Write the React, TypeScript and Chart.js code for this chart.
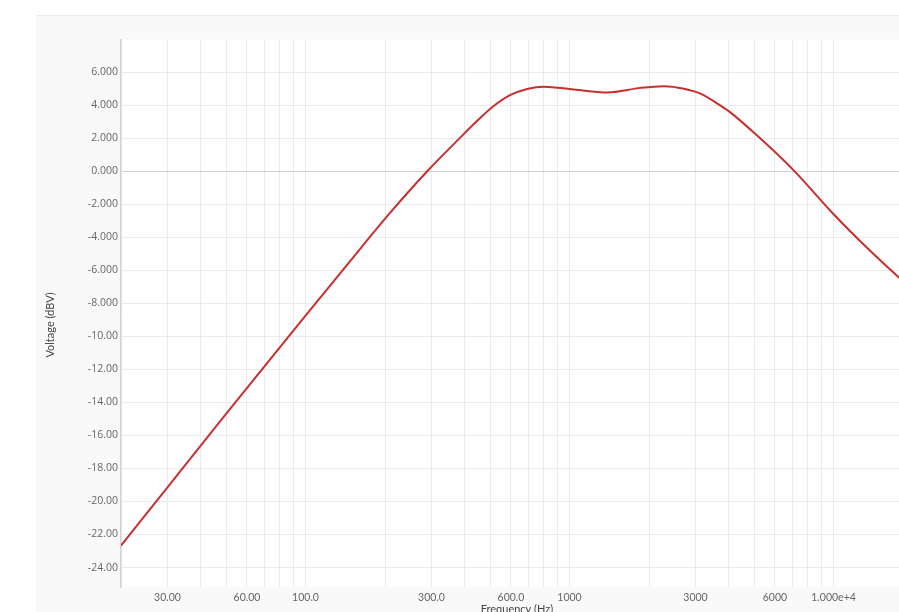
import React, { useEffect, useRef } from "react";
import { Chart, registerables } from "chart.js";

Chart.register(...registerables);

const FREQUENCIES = [20, 30, 50, 100, 150, 207, 289, 386, 450, 516, 598, 691, 800, 1038, 1390, 1858, 2277, 2711, 3135, 3733, 4075, 5063, 7080, 10030, 13420, 17780, 20000];
const VOLTAGES = [-22.67, -19.15, -14.7, -8.75, -5.3, -2.6, 0.0, 2.05, 3.1, 3.95, 4.62, 4.98, 5.12, 4.95, 4.77, 5.05, 5.15, 5.0, 4.7, 3.97, 3.55, 2.25, 0.04, -2.62, -4.65, -6.47, -7.2];
const X_LABELED_MANTISSAS = [1, 3, 6];
const Y_TICK_STEP = 2;

const fmt = (v: number) => Number(v).toPrecision(4);

export default function App() {
  const ref = useRef<HTMLCanvasElement>(null);

  useEffect(() => {
    if (!ref.current) return;
    const bgPlugin = {
      id: "bg",
      beforeDraw(chart: any) {
        const { ctx, chartArea } = chart;
        ctx.save();
        ctx.fillStyle = "#fefefe";
        ctx.fillRect(chartArea.left, chartArea.top, chartArea.right - chartArea.left, chartArea.bottom - chartArea.top);
        ctx.restore();
      },
      afterDraw(chart: any) {
        const { ctx } = chart;
        ctx.save();
        ctx.translate(14, 309);
        ctx.rotate(-Math.PI / 2);
        ctx.font = "11px Lato, 'Open Sans', sans-serif";
        ctx.fillStyle = "#444";
        ctx.textAlign = "center";
        ctx.textBaseline = "middle";
        ctx.fillText("Voltage (dBV)", 0, 0);
        ctx.restore();
      },
    };

    const chart = new Chart(ref.current, {
      type: "line",
      data: {
        datasets: [
          {
            data: FREQUENCIES.map((f, i) => ({ x: f, y: VOLTAGES[i] })),
            borderColor: "#c8302f",
            borderWidth: 2,
            pointRadius: 0,
            fill: false,
            cubicInterpolationMode: "monotone",
          },
        ],
      },
      options: {
        responsive: false,
        animation: false,
        devicePixelRatio: 1,
        layout: { padding: { top: 23.5, right: 7, left: 0, bottom: 0 } },
        plugins: { legend: { display: false }, tooltip: { enabled: false } },
        scales: {
          x: {
            type: "logarithmic",
            min: 20,
            max: 20000,
            afterBuildTicks(scale: any) {
              const ticks: any[] = [];
              for (const d of [10, 100, 1000, 10000]) {
                for (let m = 1; m <= 9; m++) {
                  const v = m * d;
                  if (v >= 20 && v <= 20000) ticks.push({ value: v, major: false });
                }
              }
              scale.ticks = ticks;
            },
            afterFit(scale: any) {
              scale.height = 29;
            },
            ticks: {
              autoSkip: false,
              maxRotation: 0,
              padding: 4,
              color: "#666",
              font: { family: "Lato, 'Open Sans', sans-serif", size: 10.5 },
              callback(value: any) {
                const v = Number(value);
                const m = Math.round(v / Math.pow(10, Math.floor(Math.log10(v) + 1e-9)));
                return X_LABELED_MANTISSAS.includes(m) && v > 20 ? fmt(v) : "";
              },
            },
            grid: { color: "#ebebeb", lineWidth: 1, drawTicks: false },
            border: { display: false },
            title: {
              display: true,
              text: "Frequency (Hz)",
              color: "#444",
              padding: 0,
              font: { family: "Lato, 'Open Sans', sans-serif", size: 11 },
            },
          },
          y: {
            type: "linear",
            min: -25.18,
            max: 7.98,
            afterBuildTicks(scale: any) {
              scale.ticks = scale.ticks.filter(
                (t: any) => Math.abs(t.value / Y_TICK_STEP - Math.round(t.value / Y_TICK_STEP)) < 1e-6
              );
            },
            afterFit(scale: any) {
              scale.width = 85;
            },
            ticks: {
              stepSize: Y_TICK_STEP,
              padding: 3,
              color: "#666",
              font: { family: "'Open Sans', sans-serif", size: 10.5 },
              callback: (v: any) => fmt(Number(v)),
            },
            grid: {
              color: (c: any) => (c.tick && Math.abs(c.tick.value) < 1e-9 ? "#cfcfcf" : "#ebebeb"),
              lineWidth: 1,
              drawTicks: false,
            },
            border: { display: true, color: "#d4d4d4", width: 1.5 },
          },
        },
      },
      plugins: [bgPlugin],
    });
    return () => chart.destroy();
  }, []);

  return (
    <div style={{ position: "fixed", left: 0, top: 0, width: 899, height: 612, overflow: "hidden", background: "#fff" }}>
      <div
        style={{
          position: "absolute",
          left: 36,
          top: 15,
          width: 900,
          height: 620,
          background: "#f9f9f9",
          borderTop: "1px solid #ebebeb",
        }}
      >
        <canvas ref={ref} width={884} height={600} style={{ position: "absolute", left: 0, top: 0, width: 884, height: 600 }} />
      </div>
    </div>
  );
}
